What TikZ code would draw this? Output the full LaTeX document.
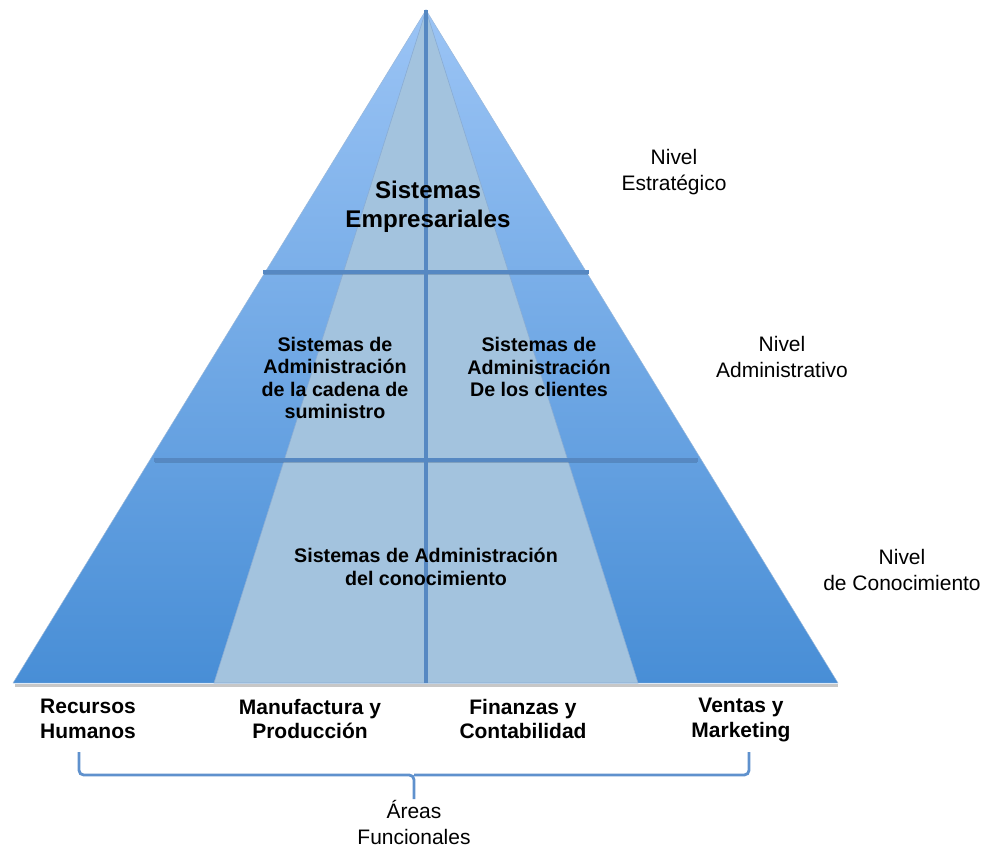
\documentclass[tikz,border=0pt]{standalone}
\usepackage{fontspec}
\setmainfont{Liberation Sans}
\usepackage{tikz}
\usetikzlibrary{positioning,calc}
\definecolor{outertop}{RGB}{155,196,245}
\definecolor{outerbot}{RGB}{72,142,214}
\definecolor{innerfill}{RGB}{163,195,222}
\definecolor{divline}{RGB}{86,136,194}
\definecolor{bracecol}{RGB}{95,145,205}

\begin{document}
\begin{tikzpicture}[x=0.03cm,y=-0.03cm]
\tikzset{BlockStyle/.style = {align=center,
                              inner sep = 0pt,
                              font      = \bfseries\fontsize{16.8}{19.2}\selectfont},
         TitleStyle/.style = {BlockStyle,
                              font      = \bfseries\fontsize{20.6}{24.6}\selectfont},
         LevelStyle/.style = {align=center,
                              inner sep = 0pt,
                              font      = \fontsize{17.9}{22}\selectfont},
         AreaStyle/.style  = {BlockStyle,
                              font      = \bfseries\fontsize{17.9}{21.3}\selectfont},
         DivStyle/.style   = {divline, line width=2.6pt},
         BraceStyle/.style = {bracecol, line width=2.4pt, rounded corners=4pt}}
\useasboundingbox (0,0) rectangle (987,850);

\coordinate (apex) at (426,10);
\coordinate (baseL) at (13,683);
\coordinate (baseR) at (838,683);
\coordinate (innerL) at (214,683);
\coordinate (innerR) at (638,683);
\coordinate (baseM) at (426,683);

% pyramid
\fill[black!22] (15,684) -- (838,684) -- (838,687) -- (15,687) -- cycle;
\shade[top color=outertop,bottom color=outerbot,draw=divline!60,line width=0.4pt]
      (apex) -- (baseL) -- (baseR) -- cycle;
\fill[innerfill,draw=divline!70,line width=0.5pt] (apex) -- (innerL) -- (innerR) -- cycle;
\draw[divline!70!black,opacity=0.35,line width=1.2pt] (264,274.5) -- (588,274.5);
\draw[divline!70!black,opacity=0.35,line width=1.2pt] (155,462.5) -- (697,462.5);
\draw[DivStyle] (263,272) -- (589,272);
\draw[DivStyle] (154,460) -- (698,460);
\draw[DivStyle,line width=3pt] (apex) -- (baseM);

% systems
\node[TitleStyle] (emp) at (428,207) {Sistemas\\Empresariales};
\node[BlockStyle] (scm) at (335,378) {Sistemas de\\Administración\\de la cadena de\\suministro};
\node[BlockStyle] (crm) at (539,367) {Sistemas de\\Administración\\De los clientes};
\node[BlockStyle] (kms) at (426,567) {Sistemas de Administración\\del conocimiento};

% levels
\node[LevelStyle] (estr) at (674,172) {Nivel\\Estratégico};
\node[LevelStyle] (admin) at (782,357) {Nivel\\Administrativo};
\node[LevelStyle] (conoc) at (902,570) {Nivel\\de Conocimiento};

% areas
\node[AreaStyle] (rh) at (88,719) {Recursos\\Humanos};
\node[AreaStyle] (mp) at (310,719) {Manufactura y\\Producción};
\node[AreaStyle] (fc) at (523,719) {Finanzas y\\Contabilidad};
\node[AreaStyle] (vm) at (741,720) {Ventas y\\Marketing};

% brace
\coordinate (braceL) at (79,752);
\coordinate (braceR) at (749,752);
\coordinate (braceM) at (414,799);
\node[LevelStyle,below=1pt of braceM] (areas) {Áreas\\Funcionales};
\draw[BraceStyle] (braceL) |- (braceM |- 0,775) -- (braceM);
\draw[BraceStyle] (braceR) |- (braceM |- 0,775);
\end{tikzpicture}
\end{document}
